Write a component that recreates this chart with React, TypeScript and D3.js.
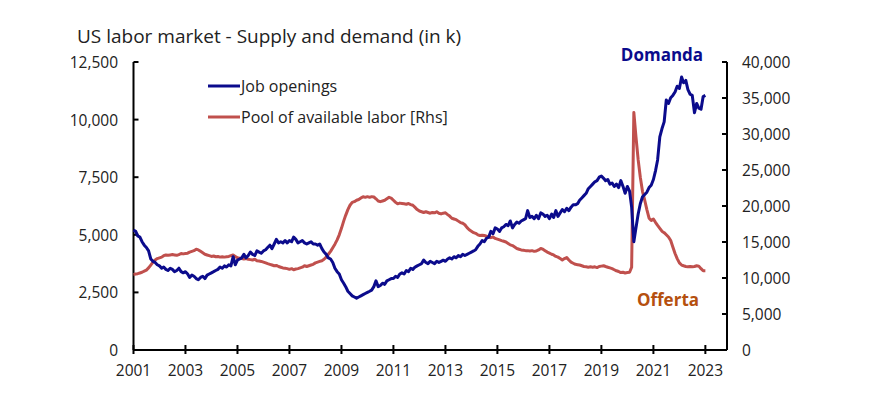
import * as d3 from "d3";

// monthly, Jan 2001 .. Jan 2023, thousands
const jobOpenings = [
  5200, 5150, 4950, 4900, 4700, 4550, 4450, 4300, 3950, 3850, 3800, 3700,
  3650, 3550, 3600, 3500, 3450, 3550, 3500, 3400, 3450, 3550, 3400, 3350,
  3400, 3300, 3150, 3250, 3200, 3100, 3050, 3150, 3200, 3100, 3250, 3300,
  3350, 3400, 3450, 3500, 3600, 3550, 3650, 3600, 3700, 3650, 4050, 3700,
  3900, 3950, 4000, 4150, 4000, 4100, 4250, 4150, 4100, 4300, 4250, 4200,
  4300, 4350, 4450, 4550, 4400, 4600, 4800, 4650, 4700, 4650, 4750, 4650,
  4750, 4700, 4900, 4800, 4650, 4700, 4750, 4650, 4600, 4650, 4700, 4600,
  4600, 4550, 4600, 4400, 4250, 4150, 4000, 3950, 3800, 3550, 3400, 3300,
  3050, 2900, 2750, 2550, 2450, 2350, 2300, 2250, 2300, 2350, 2400, 2450,
  2500, 2550, 2600, 2750, 3000, 2750, 2800, 2900, 2850, 3000, 3050, 3100,
  3100, 3200, 3150, 3300, 3350, 3300, 3450, 3400, 3550, 3500, 3600, 3650,
  3700, 3750, 3900, 3800, 3750, 3850, 3800, 3750, 3850, 3800, 3850, 3900,
  3850, 3950, 4000, 3950, 4050, 4000, 4100, 4050, 4150, 4100, 4150, 4200,
  4250, 4300, 4350, 4500, 4600, 4750, 4700, 4850, 4900, 5150, 5050, 5300,
  5250, 5150, 5300, 5350, 5450, 5400, 5600, 5300, 5450, 5550, 5500, 5600,
  5650, 5700, 6050, 5750, 5800, 5700, 5850, 5700, 5950, 5900, 5800, 5850,
  5700, 5900, 5750, 6050, 5800, 5950, 6100, 6000, 6150, 6050, 6200, 6300,
  6300, 6350, 6500, 6600, 6700, 6800, 7000, 7100, 7200, 7300, 7350, 7500,
  7550, 7450, 7350, 7400, 7200, 7250, 7100, 7200, 7050, 7350, 7100, 6800,
  7100, 6900, 6200, 4700, 5300, 5900, 6350, 6650, 6750, 6850, 7050, 7150,
  7400, 7800, 8250, 9250, 9600, 9900, 10850, 10700, 10950, 11050, 11200, 11450,
  11350, 11850, 11600, 11700, 11300, 11100, 11050, 10300, 10700, 10500, 10450, 11000,
  11050,
];

const availableLabor = [
  10500, 10550, 10600, 10700, 10800, 10950, 11100, 11400, 11800, 12200, 12500, 12700,
  12800, 12900, 13100, 13200, 13150, 13200, 13250, 13200, 13150, 13250, 13400, 13350,
  13400, 13450, 13600, 13700, 13800, 14000, 13900, 13700, 13500, 13300, 13200, 13100,
  13000, 13050, 12950, 13000, 12900, 12950, 12900, 12950, 13000, 13100, 13200, 13000,
  12800, 12750, 12700, 12650, 12700, 12600, 12550, 12500, 12600, 12400, 12350, 12300,
  12200, 12100, 12000, 11900, 11800, 11700, 11750, 11600, 11500, 11400, 11350, 11300,
  11200, 11300, 11150, 11250, 11300, 11400, 11500, 11700, 11600, 11700, 11800, 11900,
  12100, 12200, 12300, 12400, 12600, 12900, 13300, 13700, 14200, 14700, 15300, 16000,
  16900, 17900, 18700, 19500, 20100, 20500, 20600, 20800, 20900, 21100, 21300, 21200,
  21300, 21200, 21300, 21250, 21000, 20700, 20600, 20700, 20800, 21000, 21200, 21100,
  20800, 20500, 20300, 20400, 20350, 20300, 20250, 20350, 20200, 20100, 19800, 19500,
  19300, 19200, 19100, 19200, 19100, 19000, 19100, 19050, 19200, 19000, 18900, 19000,
  19050, 18800, 18600, 18300, 18200, 18100, 17900, 17700, 17600, 17400, 17000, 16700,
  16500, 16300, 16200, 16000, 15900, 15950, 15900, 15800, 15700, 15600, 15700, 15500,
  15400, 15300, 15200, 15100, 15000, 14800, 14600, 14500, 14300, 14100, 14000, 13900,
  13850, 13800, 13800, 13750, 13800, 13700, 13750, 13900, 14100, 14000, 13800, 13600,
  13450, 13300, 13200, 13000, 12900, 12700, 12500, 12700, 12850, 12500, 12200, 12050,
  11900, 11850, 11800, 11700, 11600, 11550, 11500, 11550, 11500, 11550, 11450, 11600,
  11650, 11700, 11600, 11500, 11400, 11300, 11150, 11000, 10900, 10750, 10800, 10700,
  10750, 10800, 11500, 33000, 29600, 26400, 24000, 22000, 20800, 19500, 18300, 18000,
  18200, 17700, 17300, 16900, 16500, 16300, 16000, 15700, 15200, 14300, 13400, 12700,
  12100, 11800, 11700, 11600, 11550, 11600, 11550, 11600, 11700, 11650, 11300, 11000,
  11000,
];

const startYear = 2001;
const yearTicks = [2001, 2003, 2005, 2007, 2009, 2011, 2013, 2015, 2017, 2019, 2021, 2023];
const leftTicks = [0, 2500, 5000, 7500, 10000, 12500];
const rightTicks = [0, 5000, 10000, 15000, 20000, 25000, 30000, 35000, 40000];

const BLUE = "#0b0b8c";
const RED = "#c0504d";
const FONT = "'Open Sans', sans-serif";

export default function App() {
  const W = 873;
  const H = 395;
  const left = 133.5;
  const right = 727;
  const top = 62;
  const bottom = 350;

  const x = d3
    .scaleTime()
    .domain([new Date(2001, 0, 1), new Date(2023, 10, 1)])
    .range([left, right]);
  const yL = d3.scaleLinear().domain([0, 12500]).range([bottom, top]);
  const yR = d3.scaleLinear().domain([0, 40000]).range([bottom, top]);

  const monthDate = (i: number) => new Date(startYear, i, 1);

  const jobLine = d3
    .line<number>()
    .x((_, i) => x(monthDate(i)))
    .y((d) => yL(d));
  const laborLine = d3
    .line<number>()
    .x((_, i) => x(monthDate(i)))
    .y((d) => yR(d));

  const fmt = d3.format(",");

  return (
    <svg
      width={W}
      height={H}
      style={{ position: "absolute", left: 0, top: 0, background: "#fff" }}
      fontFamily={FONT}
    >
      <text x={77} y={43} fontSize={19} fill="#222">
        US labor market - Supply and demand (in k)
      </text>

      {/* axes frame */}
      <g stroke="#000" strokeWidth={2} fill="none">
        <line x1={left} x2={left} y1={top} y2={bottom} />
        <line x1={right} x2={right} y1={top} y2={bottom} />
        <line x1={left} x2={right} y1={bottom} y2={bottom} />
        {leftTicks.map((t) => (
          <line key={"l" + t} x1={left} x2={left + 5} y1={yL(t)} y2={yL(t)} />
        ))}
        {rightTicks.map((t) => (
          <line key={"r" + t} x1={right - 5} x2={right} y1={yR(t)} y2={yR(t)} />
        ))}
        {yearTicks.map((yr) => (
          <line
            key={"x" + yr}
            x1={x(new Date(yr, 0, 1))}
            x2={x(new Date(yr, 0, 1))}
            y1={bottom - 5}
            y2={bottom + 4}
          />
        ))}
      </g>

      <g fontSize={15.5} fill="#222">
        {leftTicks.map((t) => (
          <text key={"lt" + t} x={118} y={yL(t)} textAnchor="end" dominantBaseline="central">
            {fmt(t)}
          </text>
        ))}
        {rightTicks.map((t) => (
          <text key={"rt" + t} x={742} y={yR(t)} textAnchor="start" dominantBaseline="central">
            {fmt(t)}
          </text>
        ))}
        {yearTicks.map((yr) => (
          <text
            key={"xt" + yr}
            x={x(new Date(yr, 0, 1))}
            y={370}
            textAnchor="middle"
            dominantBaseline="central"
          >
            {yr}
          </text>
        ))}
      </g>

      <path d={laborLine(availableLabor) ?? ""} fill="none" stroke={RED} strokeWidth={3} strokeLinejoin="round" />
      <path d={jobLine(jobOpenings) ?? ""} fill="none" stroke={BLUE} strokeWidth={3} strokeLinejoin="round" />

      {/* legend */}
      <g fontSize={16} fill="#222">
        <line x1={208} x2={240} y1={86} y2={86} stroke={BLUE} strokeWidth={3} />
        <text x={241} y={86} dominantBaseline="central">Job openings</text>
        <line x1={208} x2={240} y1={117} y2={117} stroke={RED} strokeWidth={3} />
        <text x={241} y={117} dominantBaseline="central">Pool of available labor [Rhs]</text>
      </g>

      <text x={662} y={54} fontSize={17} fontWeight="bold" fill={BLUE} textAnchor="middle" dominantBaseline="central">
        Domanda
      </text>
      <text x={668} y={299} fontSize={17} fontWeight="bold" fill="#b5500f" textAnchor="middle" dominantBaseline="central">
        Offerta
      </text>
    </svg>
  );
}
